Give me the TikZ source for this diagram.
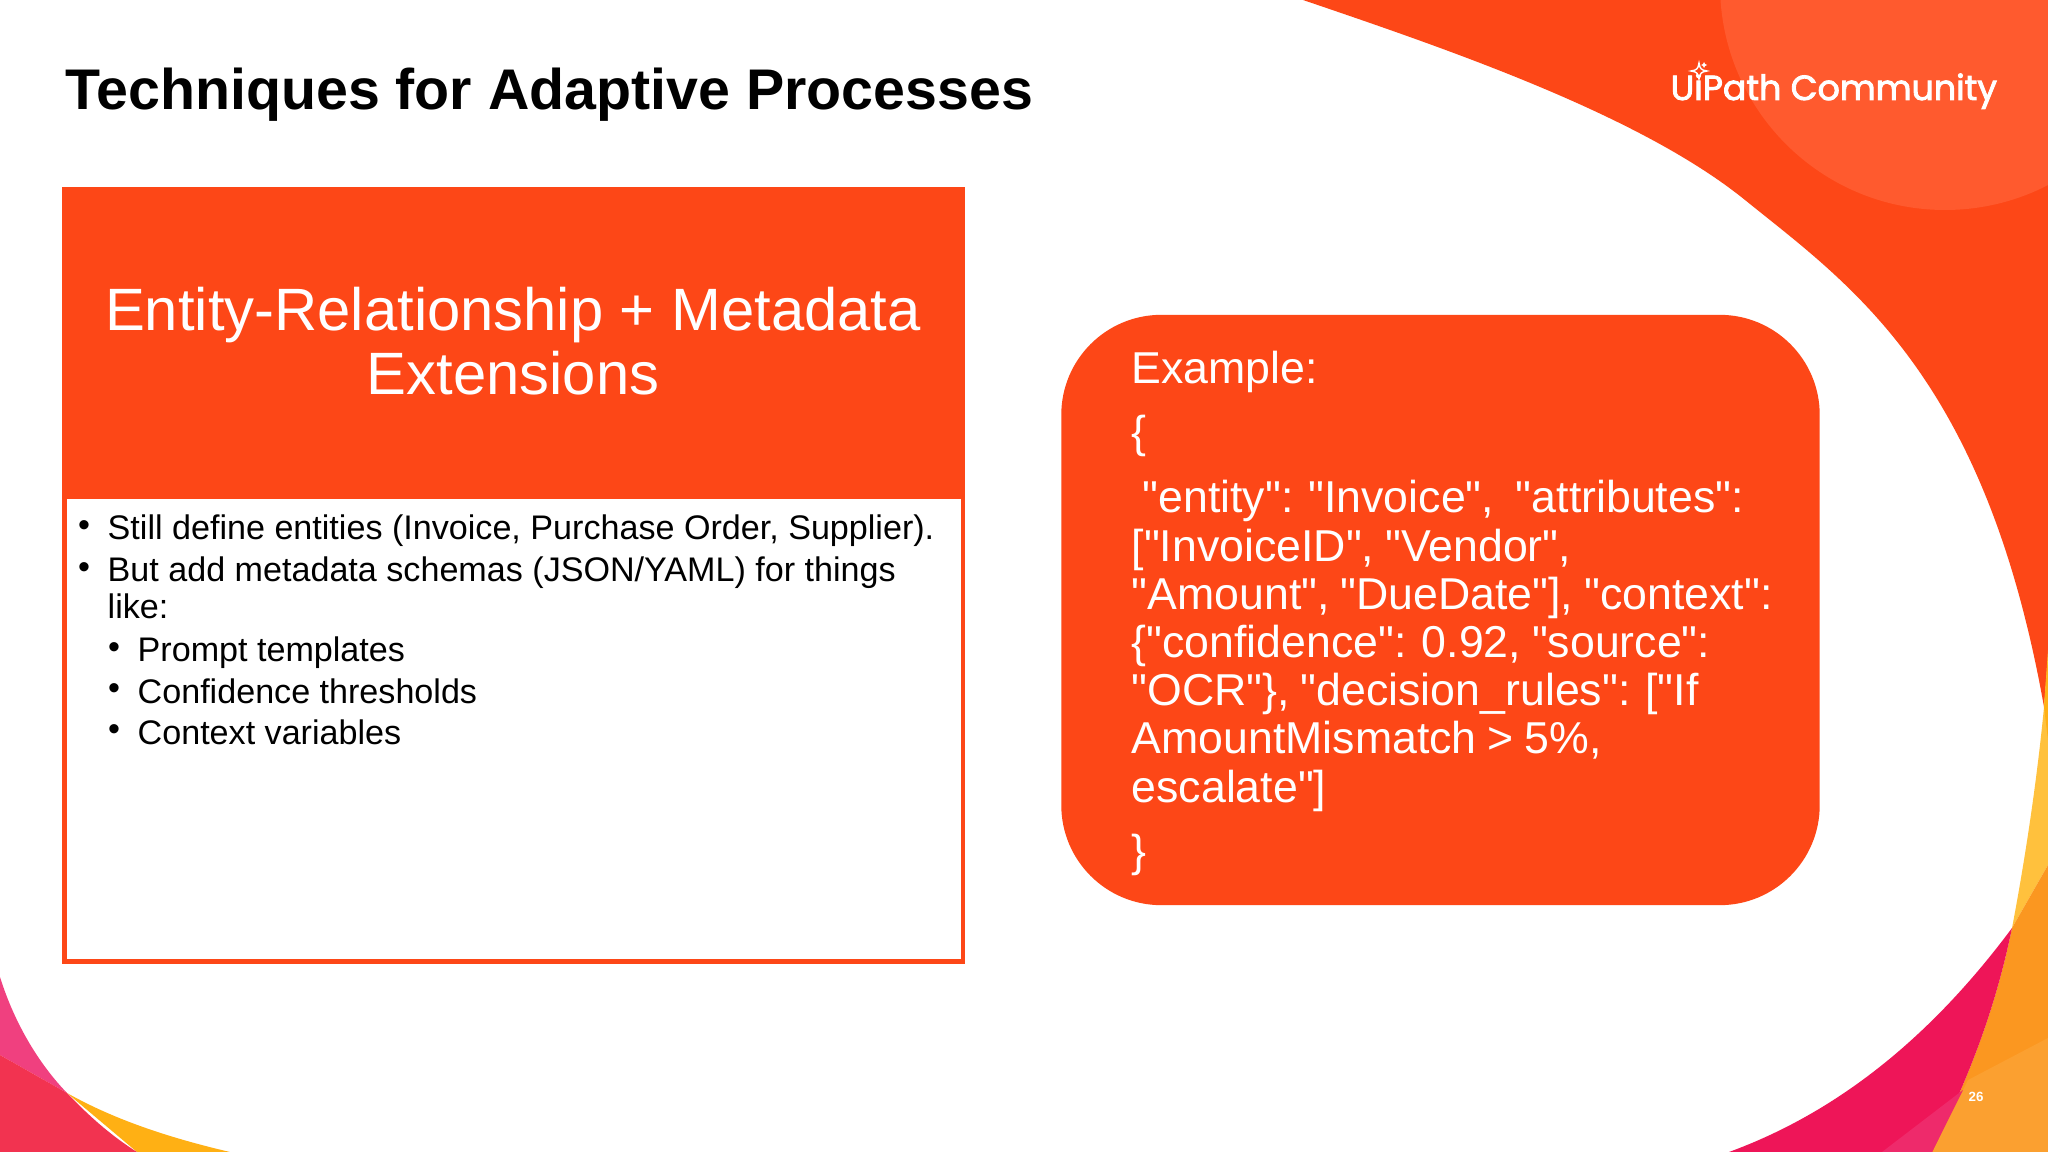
\documentclass[tikz,border=0pt]{standalone}
\usepackage{fontspec}
\setmainfont{Liberation Sans}
\newfontfamily\logofont[FakeBold=2.5]{Poppins}
\newfontfamily\codefont[WordSpace=0.88]{Liberation Sans}
\usetikzlibrary{positioning}

\definecolor{brandorange}{HTML}{FD4717}
\definecolor{circleorange}{HTML}{FF5A2E}
\definecolor{sunyellow}{HTML}{FFC13D}
\definecolor{amber}{HTML}{FFB014}
\definecolor{midorange}{HTML}{FB9720}
\definecolor{softorange}{HTML}{FBA030}
\definecolor{hotpink}{HTML}{EE1558}
\definecolor{softpink}{HTML}{EE2A6B}
\definecolor{leftpink}{HTML}{F0407F}
\definecolor{leftred}{HTML}{F23350}

\tikzset{
  headtext/.style = {anchor=base, text=white, font=\fontsize{17}{18.4}\selectfont, align=center, inner sep=0pt},
  bodytext/.style = {anchor=base west, text=black, font=\fontsize{9.7}{11}\selectfont, inner sep=0pt},
  bulletmark/.style = {anchor=base, text=black, font=\fontsize{9.7}{11}\selectfont, inner sep=0pt},
  codetext/.style = {anchor=base west, text=white, font=\codefont\fontsize{12.7}{13.7}\selectfont, align=left, inner sep=0pt}
}

\begin{document}
\begin{tikzpicture}[x=0.01cm, y=-0.01cm]
  \useasboundingbox (0,0) rectangle (2048,1152);
  \fill [white] (0,0) rectangle (2048,1152);

  % corner shapes
  \begin{scope}
    \clip (0,0) rectangle (2048,1152);
    \fill [brandorange] (1303,0) .. controls (1450,50) and (1640,115) .. (1745,200) .. controls (1850,285) and (1985,375) .. (2044,707) -- (2048,660) -- (2048,0) -- cycle;
    \fill [circleorange] (1945,-15) circle (225);

    \fill [sunyellow] (2048,650) -- (2044,707) .. controls (2037,780) and (2025,860) .. (2012,928) -- (2048,865) -- cycle;
    \fill [amber] (2048,655) -- (2044,707) -- (2048,740) -- cycle;
    \fill [midorange] (2012,928) -- (2048,865) -- (2048,1152) -- (1932,1152) .. controls (1975,1065) and (1997,1000) .. (2012,928) -- cycle;
    \fill [softorange] (1968,1080) -- (2048,1038) -- (2048,1152) -- (1932,1152) -- cycle;
    \fill [hotpink] (2012,928) .. controls (1925,1045) and (1830,1115) .. (1729,1152) -- (1932,1152) .. controls (1975,1065) and (1997,1000) .. (2012,928) -- cycle;
    \fill [softpink] (1882,1152) -- (1963,1090) -- (1932,1152) -- cycle;

    \fill [amber] (67,1093) .. controls (115,1120) and (170,1138) .. (230,1152) -- (137,1152) -- cycle;
    \fill [leftpink] (0,977) .. controls (15,1025) and (40,1065) .. (67,1093) -- (0,1055) -- cycle;
    \fill [leftred] (0,1055) -- (67,1093) .. controls (88,1115) and (110,1135) .. (137,1152) -- (0,1152) -- cycle;
  \end{scope}

  % title and logo
  \node (title) [anchor=base west, inner sep=0pt, text=black, font=\fontsize{16.3}{18}\selectfont\bfseries] at (65,110) {Techniques for Adaptive Processes};
  \node (logo) [anchor=base west, inner sep=0pt, text=white, font=\logofont\fontsize{9.9}{12}\selectfont] at (1670,100) {UiPath Community};
  \draw [white, fill=brandorange, line width=0.4pt] (1699,63) .. controls (1700,69) and (1701,70) .. (1707,71) .. controls (1701,72) and (1700,73) .. (1699,79) .. controls (1698,73) and (1697,72) .. (1691,71) .. controls (1697,70) and (1698,69) .. (1699,63) -- cycle;
  \fill [white] (1704,62) -- (1705,64) -- (1707,65) -- (1705,66) -- (1704,68) -- (1703,66) -- (1701,65) -- (1703,64) -- cycle;

  % left card
  \node (card) [draw=brandorange, line width=1.3pt, fill=white, minimum width=8.98cm, minimum height=7.72cm, inner sep=0pt] at (513.6,575.5) {};
  \node (header) [fill=brandorange, minimum width=9.02cm, minimum height=3.1cm, inner sep=0pt] at (513.6,343.5) {};
  \node (headline) [headtext] at (513,395) {Entity-Relationship + Metadata\\Extensions};

  \node (dotone) [bulletmark] at (84,537) {•};
  \node (lineone) [bodytext] at (107,540) {Still define entities (Invoice, Purchase Order, Supplier).};
  \node (dottwo) [bulletmark] at (84,579) {•};
  \node (linetwo) [bodytext] at (107,582) {But add metadata schemas (JSON/YAML) for things};
  \node (linethree) [bodytext] at (107,619) {like:};
  \node (dotprompt) [bulletmark] at (114,658) {•};
  \node (prompt) [bodytext] at (137,661) {Prompt templates};
  \node (dotconf) [bulletmark] at (114,699) {•};
  \node (conf) [bodytext] at (137,703) {Confidence thresholds};
  \node (dotctx) [bulletmark] at (114,740) {•};
  \node (ctx) [bodytext] at (137,744) {Context variables};

  % right panel
  \node (panel) [fill=brandorange, rounded corners=1cm, minimum width=7.58cm, minimum height=5.9cm, inner sep=0pt] at (1440.5,610) {};
  \node (example) [codetext] at (1131,384) {Example:};
  \node (openbrace) [codetext] at (1131,448) {\{};
  \node (code) [codetext] at (1131,802) {\ "entity": "Invoice",\ \ "attributes":\\{}["InvoiceID", "Vendor",\\
    "Amount", "DueDate"], "context":\\
    \{"confidence": 0.92, "source":\\
    "OCR"\}, "decision\_rules": ["If\\
    AmountMismatch > 5\%,\\
    escalate"]};
  \node (closebrace) [codetext] at (1131,866) {\}};

  \node (pagenum) [anchor=base, inner sep=0pt, text=white, font=\fontsize{3.8}{4}\selectfont\bfseries] at (1976,1101) {26};
\end{tikzpicture}
\end{document}
